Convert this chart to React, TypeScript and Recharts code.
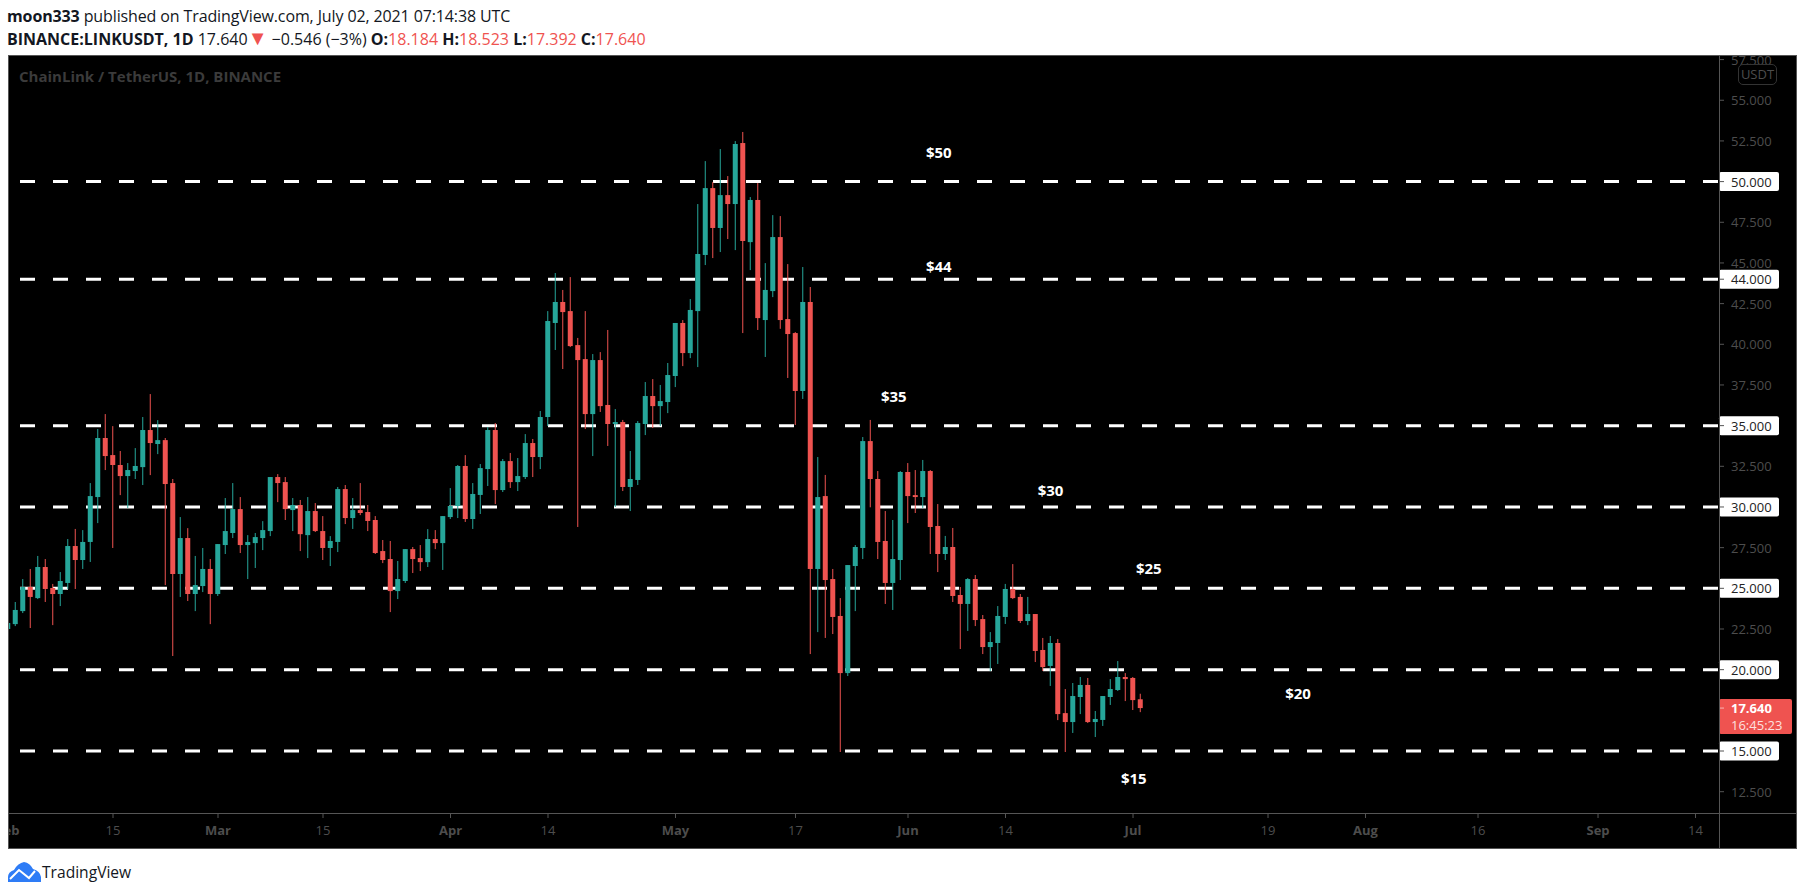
import { ComposedChart, Bar, XAxis, YAxis, ReferenceLine, ReferenceDot } from 'recharts';

// daily candles, Feb 1 2021 (day 0) to Jul 2 2021 (day 151)
const opens = [
  22.5, 22.8, 23.6, 25.08, 24.4, 26.31, 25.02, 24.65, 25.33, 27.6, 26.74, 27.85, 30.61, 34.24, 33.19, 32.58, 31.9, 32.21, 32.45, 34.73,
  33.87, 34.11, 31.47, 25.88, 28.09, 24.65, 25.14, 26.19, 24.65, 27.66, 28.4, 29.87, 27.66, 27.78, 28.09, 28.52, 31.84, 31.53, 29.81, 30.12,
  28.27, 29.75, 28.52, 27.48, 27.85, 31.1, 29.32, 29.81, 29.69, 29.2, 27.29, 26.8, 24.83, 25.45, 27.41, 26.86, 26.61, 28.03, 27.78, 29.38,
  30.06, 32.52, 29.26, 30.74, 32.33, 34.73, 31.04, 32.82, 31.53, 31.84, 33.93, 33.07, 35.53, 41.31, 42.6, 42.04, 39.95, 39.09, 35.71, 39.03,
  36.27, 35.1, 35.22, 31.23, 31.66, 35.1, 36.82, 36.2, 36.45, 38.05, 41.31, 39.46, 42.04, 45.49, 49.6, 47.15, 49.17, 48.62, 52.37, 46.28,
  48.87, 41.49, 43.27, 46.59, 41.55, 40.69, 37.13, 42.6, 26.19, 30.67, 25.57, 23.3, 19.79, 26.37, 27.48, 34.05, 31.72, 27.91, 25.33, 26.74,
  32.15, 30.73, 30.61, 32.21, 28.83, 27.11, 27.54, 24.59, 24.04, 25.57, 23.11, 21.39, 21.64, 23.24, 24.96, 24.47, 22.99, 23.42, 21.21, 20.23,
  21.64, 17.33, 16.78, 18.32, 19.06, 16.78, 16.91, 18.32, 18.75, 19.55, 19.49, 18.18,
];
const highs = [
  22.9, 24.16, 25.57, 26.19, 26.99, 26.8, 25.27, 26.0, 28.03, 28.65, 28.58, 31.47, 34.79, 35.71, 34.97, 33.44, 32.7, 33.62, 35.53, 36.94,
  35.34, 34.24, 31.72, 29.38, 28.7, 26.99, 27.48, 26.8, 27.72, 30.55, 31.47, 30.61, 28.27, 28.4, 29.13, 31.84, 32.02, 31.84, 30.55, 30.43,
  30.61, 30.24, 29.44, 28.21, 31.23, 31.35, 30.55, 31.47, 30.12, 29.44, 27.97, 27.91, 26.68, 27.41, 27.54, 27.66, 28.64, 28.58, 29.44, 31.16,
  32.58, 33.19, 31.47, 32.64, 34.91, 35.16, 32.95, 33.32, 33.01, 34.48, 34.18, 35.9, 42.04, 44.38, 43.34, 44.13, 40.39, 42.04, 39.4, 39.52,
  40.88, 36.02, 35.35, 33.44, 35.28, 37.68, 37.86, 37.5, 38.85, 41.31, 41.49, 42.78, 48.62, 51.26, 49.97, 52.0, 50.34, 52.49, 53.05, 49.05,
  49.91, 44.99, 47.94, 47.88, 44.93, 40.75, 44.75, 43.52, 33.07, 31.97, 26.19, 24.4, 26.43, 27.66, 34.3, 35.35, 32.21, 29.75, 29.2, 32.21,
  32.7, 32.27, 32.89, 32.27, 30.18, 28.22, 28.71, 25.08, 25.63, 25.82, 23.36, 22.31, 23.91, 25.27, 26.49, 24.65, 24.47, 23.42, 21.95, 22.07,
  21.88, 18.81, 19.18, 19.55, 19.49, 17.46, 18.38, 19.42, 20.53, 19.79, 19.55, 18.52,
];
const lows = [
  22.35, 22.68, 23.48, 22.56, 24.34, 24.16, 22.74, 23.91, 24.96, 24.96, 26.19, 26.62, 29.01, 32.27, 27.48, 30.73, 29.93, 31.72, 31.35, 31.96,
  33.25, 25.2, 20.84, 24.47, 24.22, 23.6, 24.77, 22.8, 24.53, 27.11, 28.09, 27.17, 25.57, 26.25, 27.35, 28.21, 30.3, 29.2, 28.52, 27.29,
  26.86, 28.46, 26.74, 26.37, 27.23, 28.95, 28.65, 29.5, 28.52, 27.11, 26.55, 23.54, 24.34, 25.33, 25.94, 26.06, 26.31, 27.41, 26.13, 29.26,
  29.32, 29.08, 28.65, 29.57, 31.29, 30.18, 30.92, 31.17, 30.98, 31.72, 31.84, 32.33, 34.98, 39.65, 38.48, 39.83, 28.77, 34.79, 33.13, 35.84,
  33.75, 30.0, 30.98, 29.75, 31.35, 34.42, 34.85, 34.98, 35.77, 37.37, 38.66, 39.15, 38.6, 44.87, 45.3, 45.67, 46.47, 45.79, 40.69, 44.56,
  40.88, 39.22, 42.9, 40.95, 37.93, 35.04, 36.64, 20.96, 22.31, 21.95, 22.19, 14.94, 19.61, 23.6, 26.8, 29.98, 26.8, 24.04, 23.67, 25.51,
  29.01, 29.63, 29.94, 27.11, 26.0, 26.74, 24.16, 21.27, 22.38, 22.68, 20.96, 19.92, 20.35, 22.81, 24.34, 22.87, 22.74, 20.47, 19.92, 19.0,
  16.9, 14.94, 16.11, 17.27, 16.72, 15.86, 16.54, 17.83, 18.69, 18.07, 17.52, 17.39,
];
const closes = [
  22.87, 23.67, 25.08, 24.47, 26.31, 24.96, 24.65, 25.45, 27.6, 26.74, 27.85, 30.67, 34.24, 33.13, 32.58, 31.9, 32.27, 32.52, 34.73, 33.93,
  34.11, 31.41, 25.88, 28.09, 24.65, 25.2, 26.19, 24.65, 27.72, 28.52, 29.87, 27.66, 27.85, 28.15, 28.58, 31.84, 31.47, 29.87, 30.12, 28.33,
  29.75, 28.52, 27.48, 27.91, 31.1, 29.32, 29.81, 29.63, 29.14, 27.17, 26.74, 24.83, 25.57, 27.41, 26.8, 26.61, 28.03, 27.78, 29.44, 30.06,
  32.52, 29.26, 30.8, 32.39, 34.73, 31.04, 32.82, 31.53, 31.9, 33.93, 33.07, 35.53, 41.43, 42.6, 41.98, 39.89, 39.03, 35.71, 39.03, 36.2,
  35.1, 35.22, 31.23, 31.72, 35.16, 36.82, 36.2, 36.51, 38.11, 41.31, 39.46, 42.11, 45.55, 49.6, 47.15, 49.17, 48.62, 52.31, 46.35, 48.87,
  41.61, 43.34, 46.59, 41.49, 40.63, 37.13, 42.6, 26.19, 30.61, 25.51, 23.24, 19.79, 26.43, 27.54, 34.05, 31.72, 27.85, 25.33, 26.8, 32.15,
  30.67, 30.61, 32.21, 28.77, 27.11, 27.54, 24.53, 24.04, 25.57, 23.05, 21.39, 21.7, 23.3, 24.96, 24.4, 22.99, 23.42, 21.15, 20.16, 21.64,
  17.27, 16.78, 18.38, 19.06, 16.78, 16.97, 18.38, 18.81, 19.55, 19.42, 18.13, 17.64,
];

const levels = [50, 44, 35, 30, 25, 20, 15];
const priceTicks = [12.5, 15, 20, 22.5, 25, 27.5, 30, 32.5, 35, 37.5, 40, 42.5, 44, 45, 47.5, 50, 52.5, 55, 57.5];
const lastPrice = 17.64;

const dayTicks = [0, 14, 28, 42, 59, 72, 89, 105, 120, 133, 150, 168, 181, 196, 212, 225];
const dayLabels = ['Feb', '15', 'Mar', '15', 'Apr', '14', 'May', '17', 'Jun', '14', 'Jul', '19', 'Aug', '16', 'Sep', '14'];

const noteTexts = ['$50', '$44', '$35', '$30', '$25', '$20', '$15'];
const noteDays = [124.1, 124.1, 118.1, 139, 152.1, 172, 150.1];
const notePrices = [51.75, 44.8, 36.76, 31, 26.2, 18.5, 13.28];

const UP = '#26a69a';
const DOWN = '#ef5350';
const AXIS = '#555555';
const LABEL = '#4d4d4d';
const FONT = '"Open Sans", "Noto Sans", sans-serif';

const rows = opens.map((open, day) => ({
  day,
  open,
  high: highs[day],
  low: lows[day],
  close: closes[day],
  range: [lows[day], highs[day]],
}));

// wick spans the bar's own range, the body is placed inside it proportionally
function Candle(props: any) {
  const { x, y, width, height, payload } = props;
  const { open, high, low, close } = payload;
  const color = close >= open ? UP : DOWN;
  const perUnit = height / (high - low);
  const top = y + (high - Math.max(open, close)) * perUnit;
  const bodyH = Math.max(Math.abs(open - close) * perUnit, 1);
  const mid = x + width / 2;
  return (
    <g>
      <rect x={mid - 0.5} y={y} width={1} height={height} fill={color} />
      <rect x={x} y={top} width={width} height={bodyH} fill={color} />
    </g>
  );
}

function PriceTick(props: any) {
  const { x, y, payload } = props;
  const v = payload.value;
  if (v === lastPrice) {
    return (
      <g>
        <rect x={x} y={y - 9} width={73} height={35} rx={2} fill={DOWN} />
        <line x1={x} x2={x + 5} y1={y} y2={y} stroke="#f7b5b3" />
        <text x={x + 12} y={y + 5} fontSize={13} fontWeight={700} fill="#fff" fontFamily={FONT}>17.640</text>
        <text x={x + 12} y={y + 22} fontSize={13} fill="#fde0df" fontFamily={FONT}>16:45:23</text>
      </g>
    );
  }
  const marked = levels.includes(v);
  return (
    <g>
      {marked && <rect x={x} y={y - 9.5} width={60} height={19} rx={2} fill="#fff" />}
      <line x1={x} x2={x + 5} y1={y} y2={y} stroke={AXIS} />
      <text x={x + 12} y={y + 5} fontSize={13} fill={marked ? '#222222' : LABEL} fontFamily={FONT}>
        {v.toFixed(3)}
      </text>
    </g>
  );
}

function DayTick(props: any) {
  const { x, y, payload } = props;
  const label = dayLabels[dayTicks.indexOf(payload.value)];
  const isMonth = label.length > 2;
  return (
    <g>
      <line x1={x} x2={x} y1={y} y2={y + 5} stroke={AXIS} />
      <text x={x} y={y + 22} textAnchor="middle" fontSize={13} fontWeight={isMonth ? 700 : 400} fill={LABEL} fontFamily={FONT}>
        {label}
      </text>
    </g>
  );
}

const abs = (left: number, top: number, width: number, height: number, background?: string): any => ({
  position: 'absolute',
  left,
  top,
  width,
  height,
  background,
});

export default function App() {
  return (
    <div style={{ ...abs(0, 0, 1805, 895, '#fff'), overflow: 'hidden', fontFamily: FONT, color: '#131722' }}>
      <div style={abs(8, 55, 1789, 793, '#000')} />

      <div style={abs(0, 0, 1805, 895)}>
        <ComposedChart width={1805} height={895} data={rows} margin={{ top: 56, right: 0, bottom: 0, left: 8 }}>
          <XAxis
            dataKey="day"
            type="number"
            domain={[0, 228.13]}
            allowDataOverflow
            ticks={dayTicks}
            interval={0}
            height={82}
            axisLine={false}
            tickLine={false}
            tickSize={0}
            tickMargin={0}
            tick={DayTick}
          />
          <YAxis
            orientation="right"
            domain={[11.19, 57.72]}
            allowDataOverflow
            ticks={[...priceTicks, lastPrice]}
            interval={0}
            width={86}
            axisLine={false}
            tickLine={false}
            tickSize={0}
            tickMargin={0}
            tick={PriceTick}
          />
          {levels.map(level => (
            <ReferenceLine
              key={level}
              y={level}
              stroke="#fff"
              strokeWidth={3}
              strokeDasharray="15 18"
              strokeDashoffset={-1}
              zIndex={0}
            />
          ))}
          <Bar dataKey="range" barSize={5} shape={Candle} isAnimationActive={false} />
          {noteTexts.map((text, i) => (
            <ReferenceDot
              key={text}
              x={noteDays[i]}
              y={notePrices[i]}
              r={0}
              fill="none"
              stroke="none"
              label={{ value: text, fill: '#fff', fontSize: 15, fontWeight: 700, position: 'center', fontFamily: FONT }}
            />
          ))}
        </ComposedChart>
      </div>

      {/* covers what the axis text pokes out over the frame */}
      <div style={abs(0, 0, 1805, 55, '#fff')} />
      <div style={abs(0, 55, 8, 793, '#fff')} />

      <div style={{ ...abs(8, 55, 1787, 792), border: `1px solid ${AXIS}` }} />
      <div style={abs(8, 813, 1789, 1, AXIS)} />
      <div style={abs(1719, 55, 1, 793, AXIS)} />

      <div style={{ position: 'absolute', left: 7, top: 6, fontSize: 16, lineHeight: '20px', letterSpacing: -0.12, whiteSpace: 'nowrap' }}>
        <b>moon333</b> published on TradingView.com, July 02, 2021 07:14:38 UTC
      </div>
      <div style={{ position: 'absolute', left: 7, top: 29, fontSize: 16, lineHeight: '20px', whiteSpace: 'nowrap' }}>
        <b>BINANCE:LINKUSDT, 1D</b> 17.640<span style={{ color: DOWN, fontSize: 20, lineHeight: 0 }}>▼</span> −0.546 (−3%) <b>O:</b>
        <span style={{ color: DOWN }}>18.184</span> <b>H:</b><span style={{ color: DOWN }}>18.523</span> <b>L:</b>
        <span style={{ color: DOWN }}>17.392</span> <b>C:</b><span style={{ color: DOWN }}>17.640</span>
      </div>

      <div style={{ position: 'absolute', left: 19, top: 65, fontSize: 15, lineHeight: '22px', fontWeight: 700, color: '#3b3b3b', whiteSpace: 'nowrap' }}>
        ChainLink / TetherUS, 1D, BINANCE
      </div>

      <div style={{ ...abs(1738, 64, 37, 19), border: '1px solid #333', borderRadius: 5, color: LABEL, fontSize: 13, lineHeight: '19px', textAlign: 'center' }}>
        USDT
      </div>

      <svg style={abs(8, 862, 33, 20)} viewBox="0 0 33 20">
        <path d="M0 20 L0 15 Q0 10 6 8 Q10 1 16 0 Q22 1 25 7 Q32 9 33 15 L33 20 Z" fill="#2e7cf6" />
        <path d="M2 17 L11 8 L21 16 L27 9" fill="none" stroke="#fff" strokeWidth={2} />
      </svg>
      <div style={{ position: 'absolute', left: 42, top: 860, fontSize: 15.6, lineHeight: '24px', whiteSpace: 'nowrap' }}>TradingView</div>
    </div>
  );
}
